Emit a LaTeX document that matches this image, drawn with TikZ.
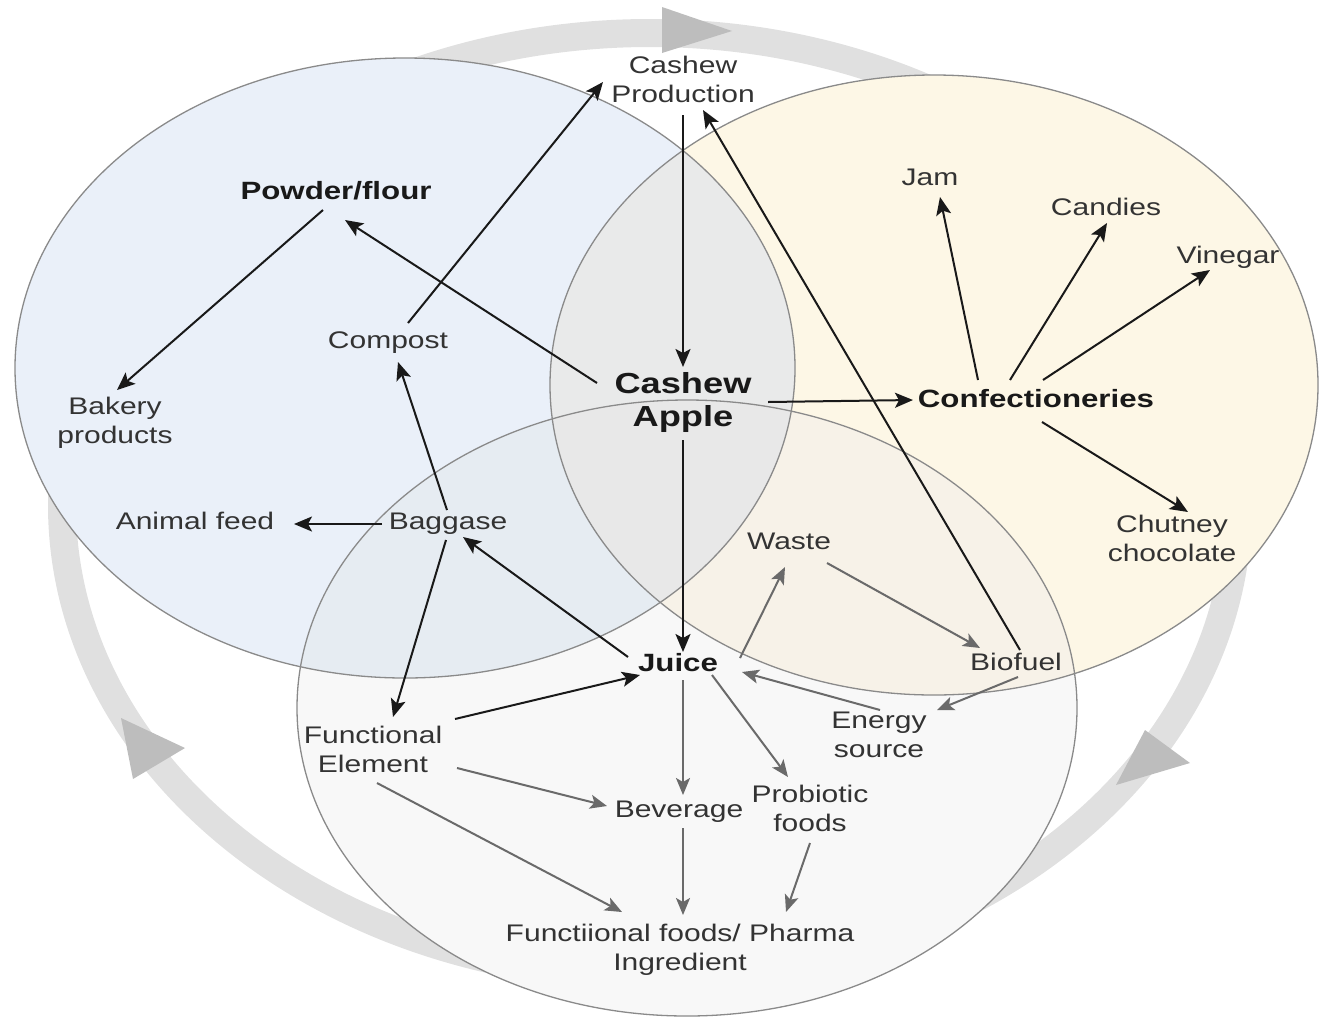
\documentclass[tikz,border=0pt]{standalone}
\usepackage{fontspec}
\setmainfont{Liberation Sans}
\usepackage{graphicx}
\usetikzlibrary{arrows.meta}
\definecolor{leftF}{HTML}{EAF0F9}
\definecolor{rightF}{HTML}{FDF7E6}
\definecolor{botF}{HTML}{F8F8F8}
\definecolor{lrF}{HTML}{E9EAEA}
\definecolor{lbF}{HTML}{E6ECF2}
\definecolor{rbF}{HTML}{F7F2E8}
\definecolor{allF}{HTML}{E8E8E8}
\definecolor{rimgray}{HTML}{8A8A8A}
\definecolor{ringgray}{HTML}{E0E0E0}
\definecolor{headgray}{HTML}{BDBDBD}
\definecolor{txtgray}{HTML}{333333}
\definecolor{arrgray}{HTML}{6A6A6A}
\newcommand\wtxt[1]{\scalebox{1.25}[1]{\begin{tabular}{@{}c@{}}#1\end{tabular}}}
\newcommand\leftE{(405,368) ellipse [x radius=390pt, y radius=310pt]}
\newcommand\rightE{(934,385) ellipse [x radius=384pt, y radius=310pt]}
\newcommand\botE{(687,708) ellipse [x radius=390pt, y radius=308pt]}
\begin{document}
\begin{tikzpicture}[x=1pt,y=-1pt,
  lbl/.style={inner sep=0pt, font=\fontsize{24}{29}\selectfont, text=txtgray},
  blbl/.style={inner sep=0pt, font=\fontsize{25}{30}\selectfont\bfseries, text=black!90},
  biglbl/.style={inner sep=0pt, font=\fontsize{29}{33}\selectfont\bfseries, text=black!90},
  blk/.style={draw=black!90, line width=2pt, -{Stealth[length=18pt,width=15pt,inset=4pt]}},
  gry/.style={draw=arrgray, line width=2pt, -{Stealth[length=17pt,width=14pt,inset=4pt]}},
  vring/.style={draw=rimgray, line width=1.3pt}]
\useasboundingbox (0,0) rectangle (1319,1018);
% background cycle ring
\draw[ringgray, line width=28pt] (650,505) ellipse [x radius=588pt, y radius=472pt];
\fill[headgray] (662,7) -- (662,53) -- (732,31) -- cycle;
\fill[headgray] (1145,730) -- (1190,763) -- (1116,785) -- cycle;
\fill[headgray] (121,718) -- (185,748) -- (133,779) -- cycle;
% circles
\fill[leftF] \leftE;
\fill[rightF] \rightE;
\fill[botF] \botE;
\begin{scope}\clip \leftE; \fill[lrF] \rightE; \end{scope}
\begin{scope}\clip \leftE; \fill[lbF] \botE; \end{scope}
\begin{scope}\clip \rightE; \fill[rbF] \botE; \end{scope}
\begin{scope}\clip \leftE; \clip \rightE; \fill[allF] \botE; \end{scope}
\draw[vring] \leftE;
\draw[vring] \rightE;
\draw[vring] \botE;
% nodes
\node[lbl] (prod) at (683,82) {\wtxt{Cashew\\Production}};
\node[blbl] (pf) at (336,193) {\wtxt{Powder/flour}};
\node[lbl] (comp) at (388,343) {\wtxt{Compost}};
\node[lbl] (bak) at (115,423) {\wtxt{Bakery\\products}};
\node[lbl] (feed) at (195,524) {\wtxt{Animal feed}};
\node[lbl] (bag) at (448,524) {\wtxt{Baggase}};
\node[biglbl] (apple) at (683,403) {\wtxt{Cashew\\Apple}};
\node[blbl] (conf) at (1036,401) {\wtxt{Confectioneries}};
\node[lbl] (jam) at (930,180) {\wtxt{Jam}};
\node[lbl] (cand) at (1106,210) {\wtxt{Candies}};
\node[lbl] (vin) at (1228,258) {\wtxt{Vinegar}};
\node[lbl] (chut) at (1172,541) {\wtxt{Chutney\\chocolate}};
\node[lbl] (waste) at (789,544) {\wtxt{Waste}};
\node[lbl] (bio) at (1016,665) {\wtxt{Biofuel}};
\node[blbl] (juice) at (678,665) {\wtxt{Juice}};
\node[lbl] (energy) at (879,737) {\wtxt{Energy\\source}};
\node[lbl] (fe) at (373,752) {\wtxt{Functional\\Element}};
\node[lbl] (bev) at (679,812) {\wtxt{Beverage}};
\node[lbl] (prob) at (810,811) {\wtxt{Probiotic\\foods}};
\node[lbl] (ffood) at (680,950) {\wtxt{Functiional foods/ Pharma\\Ingredient}};
% black connectors
\draw[blk] ([shift={(0,33)}]prod.center) -- ([shift={(0,-36)}]apple.center);
\draw[blk] ([shift={(-86,-20)}]apple.center) -- ([shift={(9,27)}]pf.center);
\draw[blk] ([shift={(-13,17)}]pf.center) -- ([shift={(2,-33)}]bak.center);
\draw[blk] ([shift={(20,-20)}]comp.center) -- ([shift={(-80,0)}]prod.center);
\draw[blk] ([shift={(-1,-14)}]bag.center) -- ([shift={(10,19)}]comp.center);
\draw[blk] ([shift={(-66,0)}]bag.center) -- ([shift={(99,0)}]feed.center);
\draw[blk] ([shift={(-2,16)}]bag.center) -- ([shift={(20,-35)}]fe.center);
\draw[blk] ([shift={(-50,-8)}]juice.center) -- ([shift={(15,13)}]bag.center);
\draw[blk] ([shift={(82,-33)}]fe.center) -- ([shift={(-38,10)}]juice.center);
\draw[blk] ([shift={(0,37)}]apple.center) -- ([shift={(5,-13)}]juice.center);
\draw[blk] ([shift={(85,-1)}]apple.center) -- ([shift={(-123,-1)}]conf.center);
\draw[blk] ([shift={(-58,-21)}]conf.center) -- ([shift={(10,17)}]jam.center);
\draw[blk] ([shift={(-26,-21)}]conf.center) -- ([shift={(1,13)}]cand.center);
\draw[blk] ([shift={(7,-21)}]conf.center) -- ([shift={(-18,12)}]vin.center);
\draw[blk] ([shift={(6,21)}]conf.center) -- ([shift={(16,-29)}]chut.center);
\draw[blk] ([shift={(4,-15)}]bio.center) -- ([shift={(20,28)}]prod.center);
% grey connectors
\draw[gry] ([shift={(62,-7)}]juice.center) -- ([shift={(-4,23)}]waste.center);
\draw[gry] ([shift={(38,19)}]waste.center) -- ([shift={(-36,-17)}]bio.center);
\draw[gry] ([shift={(2,12)}]bio.center) -- ([shift={(58,-27)}]energy.center);
\draw[gry] ([shift={(1,-27)}]energy.center) -- ([shift={(64,7)}]juice.center);
\draw[gry] ([shift={(5,15)}]juice.center) -- ([shift={(4,-17)}]bev.center);
\draw[gry] ([shift={(34,10)}]juice.center) -- ([shift={(-22,-34)}]prob.center);
\draw[gry] ([shift={(84,16)}]fe.center) -- ([shift={(-72,-6)}]bev.center);
\draw[gry] ([shift={(4,31)}]fe.center) -- ([shift={(-58,-38)}]ffood.center);
\draw[gry] ([shift={(4,16)}]bev.center) -- ([shift={(3,-35)}]ffood.center);
\draw[gry] ([shift={(0,32)}]prob.center) -- ([shift={(106,-38)}]ffood.center);
\end{tikzpicture}
\end{document}
